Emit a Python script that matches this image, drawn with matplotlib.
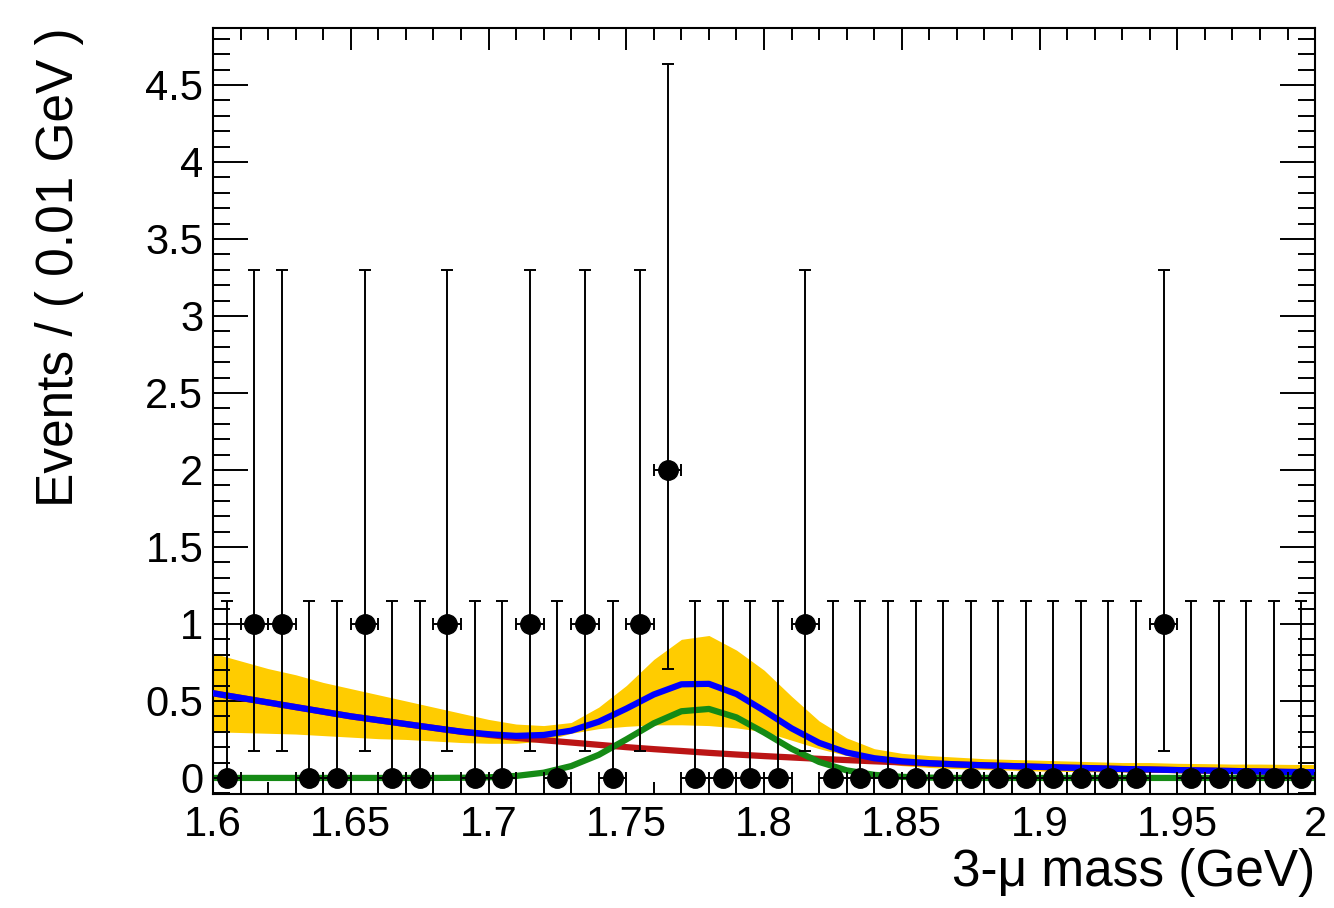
import matplotlib
matplotlib.use('Agg')
import matplotlib.pyplot as plt
import numpy as np
from matplotlib.ticker import MultipleLocator

plt.rcParams['font.family'] = ['Liberation Sans', 'DejaVu Sans']

# data: events per 0.01 GeV bin, 1.60 - 2.00 GeV
counts = [0, 1, 1, 0, 0, 1, 0, 0, 1, 0,
          0, 1, 0, 1, 0, 1, 2, 0, 0, 0,
          0, 1, 0, 0, 0, 0, 0, 0, 0, 0,
          0, 0, 0, 0, 1, 0, 0, 0, 0, 0]
# poisson (garwood) intervals for n = 0, 1, 2
err_down = {0: 0.0, 1: 0.827, 2: 1.291}
err_up = {0: 1.148, 1: 2.299, 2: 2.638}

# fit curves sampled every 0.01 GeV from 1.60 to 2.00
bkg = [0.55, 0.52, 0.49, 0.46, 0.43, 0.40, 0.375, 0.35, 0.325, 0.30,
       0.28, 0.26, 0.245, 0.23, 0.215, 0.20, 0.187, 0.175, 0.163, 0.152,
       0.142, 0.133, 0.124, 0.116, 0.108, 0.101, 0.094, 0.088, 0.082, 0.077,
       0.072, 0.067, 0.063, 0.058, 0.055, 0.051, 0.048, 0.045, 0.042, 0.039,
       0.037]
sig = [0, 0, 0, 0, 0, 0, 0, 0, 0, 0.001,
       0.004, 0.013, 0.034, 0.077, 0.150, 0.250, 0.355, 0.433, 0.448, 0.393,
       0.295, 0.189, 0.104, 0.049, 0.020, 0.007, 0.002, 0, 0, 0,
       0, 0, 0, 0, 0, 0, 0, 0, 0, 0,
       0]
band_lo = [0.30, 0.295, 0.29, 0.285, 0.275, 0.265, 0.255, 0.25, 0.24, 0.23,
           0.225, 0.225, 0.24, 0.29, 0.32, 0.335, 0.345, 0.345, 0.34, 0.325,
           0.30, 0.245, 0.19, 0.145, 0.105, 0.08, 0.068, 0.06, 0.055, 0.05,
           0.045, 0.042, 0.04, 0.038, 0.036, 0.034, 0.032, 0.031, 0.03, 0.029,
           0.028]
band_hi = [0.81, 0.76, 0.71, 0.67, 0.62, 0.58, 0.54, 0.50, 0.46, 0.42,
           0.38, 0.35, 0.34, 0.36, 0.46, 0.60, 0.77, 0.90, 0.925, 0.83,
           0.70, 0.53, 0.37, 0.26, 0.19, 0.16, 0.145, 0.135, 0.125, 0.12,
           0.115, 0.11, 0.105, 0.10, 0.10, 0.095, 0.093, 0.09, 0.09, 0.088,
           0.087]

x_bins = 1.605 + 0.01 * np.arange(len(counts))
x_curve = 1.60 + 0.01 * np.arange(len(bkg))
total = np.array(bkg) + np.array(sig)
y_lo = [err_down[c] for c in counts]
y_hi = [err_up[c] for c in counts]

fig = plt.figure(figsize=(13.34, 9.08), dpi=100)
ax = fig.add_axes([0.1597, 0.1256, 0.8261, 0.8436])

ax.fill_between(x_curve, band_lo, band_hi, color='#ffcc00', lw=0, zorder=1)
ax.plot(x_curve, bkg, color='#bb1515', lw=4.5, zorder=2)
ax.plot(x_curve, sig, color='#158a15', lw=4.5, zorder=3)
ax.plot(x_curve, total, color='#0000ff', lw=4.5, zorder=4)
ax.errorbar(x_bins, counts, yerr=[y_lo, y_hi], xerr=0.005, fmt='o', color='black',
            ms=14, elinewidth=1.4, capsize=4, capthick=1.4, zorder=5)

ax.set_xlim(1.6, 2.0)
ax.set_ylim(-0.104, 4.87)
ax.xaxis.set_major_locator(MultipleLocator(0.05))
ax.xaxis.set_minor_locator(MultipleLocator(0.01))
ax.yaxis.set_major_locator(MultipleLocator(0.5))
ax.yaxis.set_minor_locator(MultipleLocator(0.1))
ax.set_xticks([1.6, 1.65, 1.7, 1.75, 1.8, 1.85, 1.9, 1.95, 2.0],
              ['1.6', '1.65', '1.7', '1.75', '1.8', '1.85', '1.9', '1.95', '2'])
ax.set_yticks([0, 0.5, 1, 1.5, 2, 2.5, 3, 3.5, 4, 4.5],
              ['0', '0.5', '1', '1.5', '2', '2.5', '3', '3.5', '4', '4.5'])

ax.tick_params(which='both', direction='in', top=True, right=True, labelsize=30, width=1.4)
ax.tick_params(axis='x', which='major', length=16, pad=8)
ax.tick_params(axis='x', which='minor', length=8.5)
ax.tick_params(axis='y', which='major', length=25, pad=7)
ax.tick_params(axis='y', which='minor', length=12)
for s in ax.spines.values():
    s.set_linewidth(1.5)

ax.set_xlabel('3-\u03bc mass (GeV)', loc='right', fontsize=37, labelpad=2)
ax.set_ylabel('Events / ( 0.01 GeV )', loc='top', fontsize=37, labelpad=44)

fig.savefig('out.png', dpi=100)
